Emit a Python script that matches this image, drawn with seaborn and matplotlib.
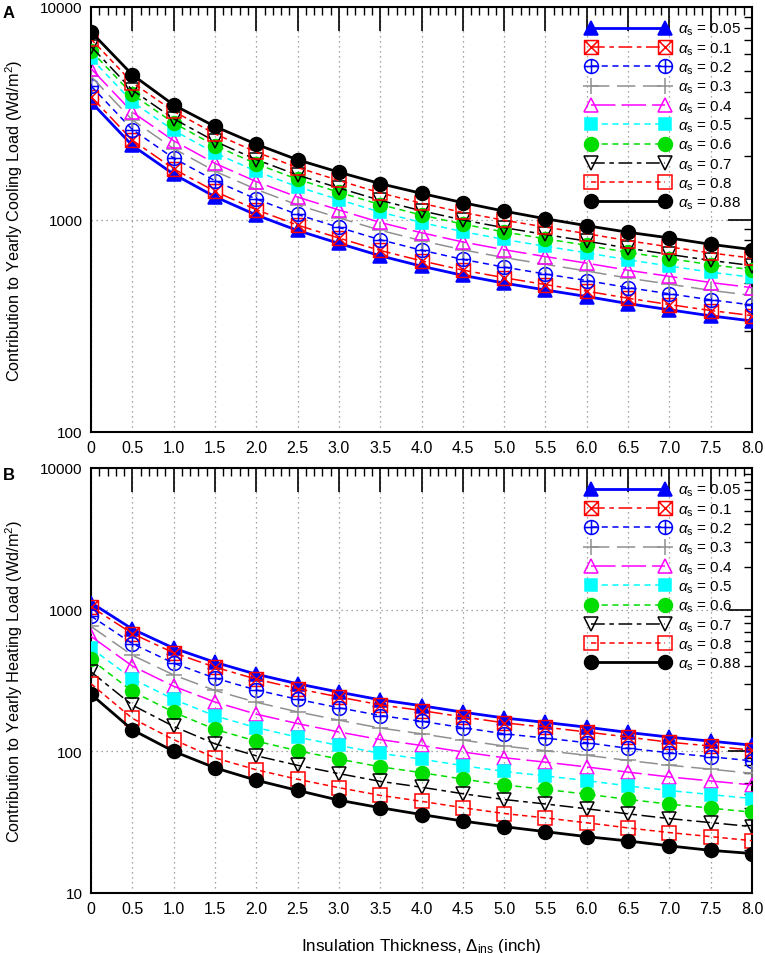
import numpy as np
import pandas as pd
import matplotlib
matplotlib.use("Agg")
import matplotlib.pyplot as plt
from matplotlib.path import Path
from matplotlib.ticker import MultipleLocator, FixedLocator, LogLocator, NullFormatter, FixedFormatter
import seaborn as sns

sns.set_theme(style="white")
plt.rcParams['font.family'] = ['Liberation Sans', 'DejaVu Sans']
plt.rcParams['mathtext.fontset'] = 'custom'
plt.rcParams['mathtext.rm'] = 'Liberation Sans'
plt.rcParams['mathtext.it'] = 'Liberation Sans:italic'
for k in ['text.color', 'axes.labelcolor', 'xtick.color', 'ytick.color']:
    plt.rcParams[k] = 'black'

thickness = [0, 0.5, 1.0, 1.5, 2.0, 2.5, 3.0, 3.5, 4.0, 4.5, 5.0, 5.5, 6.0, 6.5, 7.0, 7.5, 8.0]
alphas = ["0.05", "0.1", "0.2", "0.3", "0.4", "0.5", "0.6", "0.7", "0.8", "0.88"]
xtick_labels = ["0", "0.5", "1.0", "1.5", "2.0", "2.5", "3.0", "3.5", "4.0", "4.5",
                "5.0", "5.5", "6.0", "6.5", "7.0", "7.5", "8.0"]

# Panel A: cooling load contribution (Wd/m^2)
cool_005 = [3575, 2230, 1635, 1280, 1050, 888, 772, 675, 603, 546, 502, 466, 434, 402, 376, 352, 333]
cool_01 = [3788, 2363, 1732, 1356, 1112, 941, 818, 715, 639, 578, 532, 494, 460, 426, 398, 373, 353]
cool_02 = [4251, 2651, 1944, 1522, 1248, 1056, 918, 803, 717, 649, 597, 554, 516, 478, 447, 419, 396]
cool_03 = [4715, 2941, 2157, 1688, 1385, 1171, 1018, 890, 795, 720, 662, 615, 572, 530, 496, 464, 439]
cool_04 = [5134, 3202, 2348, 1838, 1508, 1275, 1109, 969, 866, 784, 721, 669, 623, 577, 540, 505, 478]
cool_05 = [5741, 3581, 2626, 2056, 1686, 1426, 1240, 1084, 968, 877, 806, 748, 697, 646, 604, 565, 535]
cool_06 = [6224, 3882, 2847, 2228, 1828, 1546, 1344, 1175, 1050, 951, 874, 811, 756, 700, 655, 613, 580]
cool_07 = [6517, 4065, 2981, 2333, 1914, 1619, 1407, 1231, 1099, 995, 915, 850, 791, 733, 685, 642, 607]
cool_08 = [7068, 4409, 3232, 2531, 2076, 1756, 1526, 1334, 1192, 1079, 992, 921, 858, 795, 743, 696, 658]
cool_088 = [7640, 4800, 3460, 2740, 2260, 1910, 1670, 1475, 1327, 1200, 1095, 1008, 935, 871, 819, 764, 722]

# Panel B: heating load contribution (Wd/m^2)
heat_005 = [1120, 730, 535, 425, 350, 300, 262, 231, 210, 189, 172, 160, 148, 136, 126, 118, 110.5]
heat_01 = [1048, 678, 496, 393, 323, 277, 242, 213, 194, 175, 159, 148, 137, 126, 116, 109, 102]
heat_02 = [902, 576, 419, 329, 271, 233, 203, 179, 163, 147, 133, 124, 115, 105, 97.7, 91.5, 85.7]
heat_03 = [761, 477, 346, 269, 222, 190, 166, 146, 133, 120, 109, 101, 93.8, 86.2, 79.8, 74.8, 70.0]
heat_04 = [648, 400, 288, 223, 183, 157, 137, 121, 110, 99, 90.1, 83.9, 77.6, 71.3, 66.0, 61.8, 57.9]
heat_05 = [536, 325, 233, 178, 147, 126, 110, 96.9, 88.1, 79.3, 72.1, 67.1, 62.1, 57.0, 52.9, 49.5, 46.4]
heat_06 = [445, 265, 189, 143, 118, 101, 88.2, 77.8, 70.7, 63.7, 57.9, 53.9, 49.8, 45.8, 42.4, 39.7, 37.2]
heat_07 = [364, 212, 150, 113, 93.0, 79.7, 69.6, 61.4, 55.8, 50.2, 45.7, 42.5, 39.3, 36.2, 33.5, 31.4, 29.4]
heat_08 = [300, 171, 121, 89.9, 74.1, 63.5, 55.4, 48.9, 44.4, 40.0, 36.4, 33.9, 31.3, 28.8, 26.7, 25.0, 23.4]
heat_088 = [253, 142, 100, 76.5, 62.5, 53, 45.2, 40, 35.8, 32.2, 29.4, 27.1, 25, 23.3, 21.5, 20.0, 19.0]

cool_series = [cool_005, cool_01, cool_02, cool_03, cool_04, cool_05, cool_06, cool_07, cool_08, cool_088]
heat_series = [heat_005, heat_01, heat_02, heat_03, heat_04, heat_05, heat_06, heat_07, heat_08, heat_088]

# custom markers
box_x = Path([(-1, -1), (1, -1), (1, 1), (-1, 1), (-1, -1), (-1, -1), (1, 1), (-1, 1), (1, -1)],
             [Path.MOVETO, Path.LINETO, Path.LINETO, Path.LINETO, Path.CLOSEPOLY,
              Path.MOVETO, Path.LINETO, Path.MOVETO, Path.LINETO])
plus_p = Path([(-1, 0), (1, 0), (0, -1), (0, 1)], [Path.MOVETO, Path.LINETO, Path.MOVETO, Path.LINETO])
circ_plus = Path.make_compound_path(Path.unit_circle(), plus_p)

green = '#00DD00'
styles = [
    dict(color='#0000FF', ls='-', lw=2.0, marker='^', mfc='#0000FF', ms=10),
    dict(color='#FF0000', ls=(0, (9, 3, 3, 3)), lw=1.1, marker=box_x, mfc='none', ms=10),
    dict(color='#0000FF', ls=(0, (4, 3)), lw=1.1, marker=circ_plus, mfc='none', ms=10),
    dict(color='#909090', ls=(0, (12, 5)), lw=1.1, marker='+', mfc='none', ms=11),
    dict(color='#FF00FF', ls=(0, (16, 4)), lw=1.1, marker='^', mfc='none', ms=10),
    dict(color='#00FFFF', ls=(0, (4, 3)), lw=1.1, marker='s', mfc='#00FFFF', ms=9),
    dict(color=green, ls=(0, (4, 3)), lw=1.1, marker='o', mfc=green, ms=10),
    dict(color='#000000', ls=(0, (9, 3, 3, 3)), lw=1.1, marker='v', mfc='none', ms=10),
    dict(color='#FF0000', ls=(0, (3.5, 2.5)), lw=1.1, marker='s', mfc='none', ms=9.5),
    dict(color='#000000', ls='-', lw=2.0, marker='o', mfc='#000000', ms=10),
]

fig = plt.figure(figsize=(7.65, 9.54), dpi=100)
axA = fig.add_axes([91 / 765, 1 - 433 / 954, (752 - 91) / 765, (433 - 8) / 954])
axB = fig.add_axes([91 / 765, 1 - 894 / 954, (752 - 91) / 765, (894 - 469) / 954])


def draw(ax, series, ylim, yticks):
    for a, vals, st in zip(alphas, series, styles):
        df = pd.DataFrame({"x": thickness, "y": vals})
        sns.lineplot(data=df, x="x", y="y", ax=ax, color=st['color'], linestyle=st['ls'],
                     linewidth=st['lw'], marker=st['marker'], markerfacecolor=st['mfc'],
                     markeredgecolor=st['color'], markersize=st['ms'], markeredgewidth=1.1,
                     label=r"$\alpha_{\mathrm{s}}$ = " + a, zorder=3)
    ax.set_yscale('log')
    ax.set_xlim(0, 8)
    ax.set_ylim(*ylim)
    ax.xaxis.set_major_locator(FixedLocator(thickness))
    ax.xaxis.set_major_formatter(FixedFormatter(xtick_labels))
    ax.xaxis.set_minor_locator(MultipleLocator(0.1))
    ax.yaxis.set_major_locator(FixedLocator(yticks))
    ax.yaxis.set_major_formatter(FixedFormatter([str(t) for t in yticks]))
    ax.yaxis.set_minor_locator(LogLocator(base=10, subs=np.arange(2, 10)))
    ax.yaxis.set_minor_formatter(NullFormatter())
    ax.tick_params(which='major', direction='in', length=17, width=1.2, top=True, right=True,
                   labelsize=11, pad=6, colors='black')
    ax.tick_params(axis='x', which='major', labelsize=11.5)
    ax.tick_params(which='minor', direction='in', length=6, width=1.0, top=True, right=True)
    ax.grid(True, which='major', linestyle=(0, (1, 3)), color='#888888', linewidth=0.9)
    for s in ax.spines.values():
        s.set_linewidth(1.5)
        s.set_color('black')
    ax.set_xlabel("")
    ax.legend(loc='upper right', bbox_to_anchor=(1.0, 0.992), frameon=False, numpoints=2,
              handlelength=5.4, fontsize=11, labelspacing=0.19, handletextpad=0.6,
              borderaxespad=0.3)


draw(axA, cool_series, (100, 10000), [100, 1000, 10000])
draw(axB, heat_series, (10, 10000), [10, 100, 1000, 10000])

axA.set_ylabel("Contribution to Yearly Cooling Load (Wd/m$^2$)", fontsize=11.7)
axB.set_ylabel("Contribution to Yearly Heating Load (Wd/m$^2$)", fontsize=11.7)
axA.yaxis.set_label_coords((25 - 91) / 661, 0.5)
axB.yaxis.set_label_coords((25 - 91) / 661, 0.5)
axB.set_xlabel(r"Insulation Thickness, $\Delta_{\mathrm{ins}}$ (inch)", fontsize=12.3, labelpad=14)

fig.text(3 / 765, 1 - 14 / 954, "A", fontsize=12, fontweight='bold', va='center', ha='left')
fig.text(3 / 765, 1 - 476 / 954, "B", fontsize=12, fontweight='bold', va='center', ha='left')

fig.savefig("out.png", dpi=100)
